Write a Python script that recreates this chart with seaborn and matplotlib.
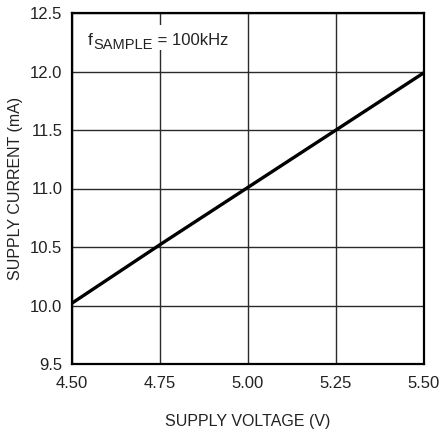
import matplotlib
matplotlib.use("Agg")
import matplotlib.pyplot as plt
from matplotlib.patches import Rectangle
import seaborn as sns
import pandas as pd

voltage = [4.50, 4.75, 5.00, 5.25, 5.50]
current = [10.02, 10.52, 11.01, 11.50, 11.99]
x_ticks = [4.50, 4.75, 5.00, 5.25, 5.50]
x_labels = ["4.50", "4.75", "5.00", "5.25", "5.50"]
y_ticks = [9.5, 10.0, 10.5, 11.0, 11.5, 12.0, 12.5]
y_labels = ["9.5", "10.0", "10.5", "11.0", "11.5", "12.0", "12.5"]

sns.set_theme(style="white")
plt.rcParams["font.family"] = ["Liberation Sans", "DejaVu Sans"]

TXT = "#222222"
df = pd.DataFrame({"V": voltage, "I": current})
fig = plt.figure(figsize=(4.4, 4.34), dpi=100)
ax = fig.add_axes([72/440, 1 - 364/434, (424-72)/440, (364-13)/434])
sns.lineplot(data=df, x="V", y="I", ax=ax, color="black", linewidth=2.4)
ax.set_xlim(4.5, 5.5)
ax.set_ylim(9.5, 12.5)
ax.set_xticks(x_ticks)
ax.set_xticklabels(x_labels)
ax.set_yticks(y_ticks)
ax.set_yticklabels(y_labels)
ax.grid(True, color="#2a2a2a", linewidth=1.0)
ax.set_axisbelow(True)
for s in ax.spines.values():
    s.set_color("black")
    s.set_linewidth(1.6)
ax.tick_params(axis="x", length=0, labelsize=12, colors=TXT, pad=9)
ax.tick_params(axis="y", length=0, labelsize=12, colors=TXT, pad=7)
ax.set_xlabel("SUPPLY VOLTAGE (V)", fontsize=11.5, color=TXT, labelpad=16)
ax.set_ylabel("SUPPLY CURRENT (mA)", fontsize=11.5, color=TXT, labelpad=5)

# white background behind the annotation
ax.add_patch(Rectangle((0.034, 0.895), 0.403, 0.071, transform=ax.transAxes,
                       facecolor="white", edgecolor="none", zorder=2.5))
base_y = 12.226
t1 = ax.text(4.545, base_y, "f", fontsize=12.5, color=TXT, va="baseline", ha="left", zorder=3)
t2 = ax.annotate("SAMPLE", xy=(1, base_y), xycoords=(t1, "data"), xytext=(0.3, -2.5),
                 textcoords="offset points", fontsize=10.5, color=TXT,
                 va="baseline", ha="left", zorder=3)
t3 = ax.annotate(" = 100kHz", xy=(1, base_y), xycoords=(t2, "data"), xytext=(0, 0),
                 textcoords="offset points", fontsize=12, color=TXT,
                 va="baseline", ha="left", zorder=3)
fig.savefig("out.png", dpi=100)
